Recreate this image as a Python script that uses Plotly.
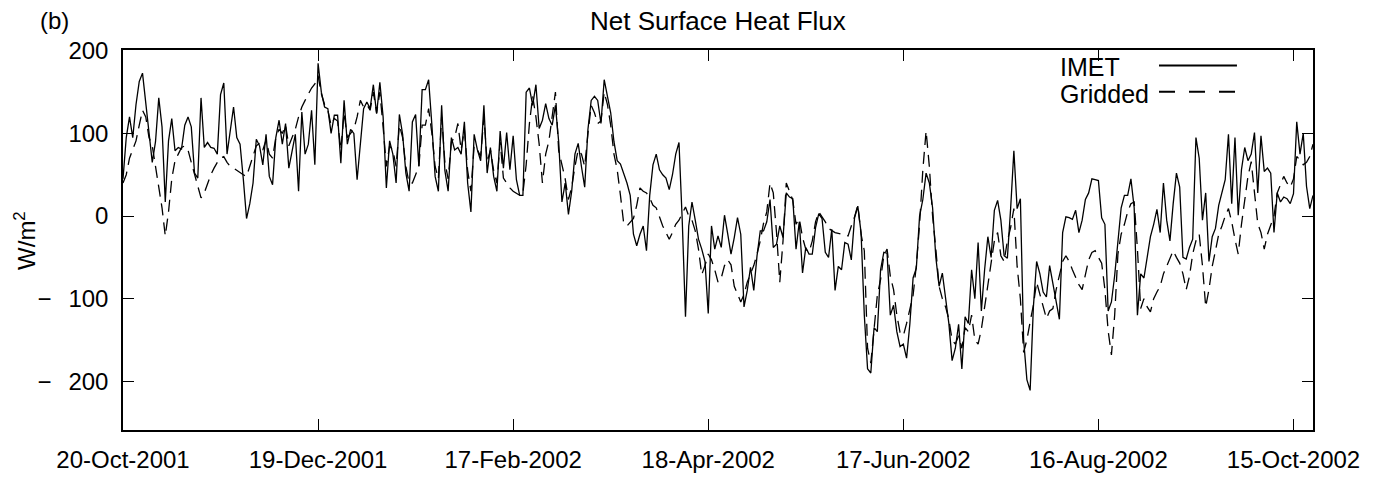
import pandas as pd
import plotly.graph_objects as go

start_date = "2001-10-20"

imet = [
    45, 95, 120, 95, 135, 163, 173, 135, 100, 65,
    90, 143, 108, 17, 91, 118, 79, 83, 81, 110,
    120, 108, 52, 46, 143, 83, 89, 83, 82, 75,
    147, 161, 75, 106, 132, 95, 87, 45, -3, 15,
    40, 93, 85, 62, 99, 48, 38, 95, 116, 87,
    112, 58, 79, 99, 30, 126, 75, 87, 128, 62,
    185, 150, 132, 130, 100, 122, 122, 64, 140, 87,
    105, 100, 44, 87, 130, 138, 130, 159, 124, 162,
    120, 34, 91, 75, 40, 123, 99, 52, 30, 114,
    123, 60, 153, 153, 165, 110, 48, 30, 134, 55,
    30, 95, 80, 83, 75, 114, 40, 5, 99, 80,
    67, 134, 52, 83, 48, 30, 103, 58, 101, 56,
    97, 44, 25, 25, 150, 155, 134, 159, 106, 116,
    136, 118, 110, 134, 90, 17, 40, 2, 30, 75,
    88, 60, 35, 105, 140, 145, 140, 112, 165, 145,
    125, 90, 67, 63, 52, 40, 25, -22, -36, -22,
    -12, -42, 25, 62, 75, 56, 50, 46, 32, 50,
    75, 89, -5, -122, -12, 17, -5, -28, -40, -55,
    -118, -12, -40, -24, -38, 1, -22, -46, -26, -2,
    -22, -110, -90, -62, -90, -48, -18, -18, -7, 20,
    -38, -34, -12, -26, 28, 23, 21, -40, -7, -69,
    -38, -46, -46, -14, 3, -3, -44, -50, -16, -90,
    -61, -65, -32, -34, -53, -2, 12, -20, -120, -185,
    -190, -135, -140, -65, -44, -45, -120, -108, -140, -158,
    -155, -172, -131, -75, -63, 0, 20, 52, 40, 10,
    -50, -85, -69, -100, -130, -175, -160, -131, -185, -122,
    -130, -65, -100, -32, -115, -65, -25, -50, 7, 19,
    -5, -48, -51, 9, 79, 9, 21, -150, -198, -211,
    -110, -55, -70, -92, -98, -60, -82, -100, -125, -20,
    -1, -2, -4, 7, -20, -5, 20, 28, 45, 44,
    43, -2, -10, -115, -104, -72, -30, 10, 25, 25,
    45, 10, -120, -70, -75, -50, -25, -10, 8, -20,
    40, -5, -30, 15, 52, 35, -50, -52, -38, -28,
    95, 70, -5, 28, -55, -25, -15, 13, 28, 44,
    99, 15, 95, 1, 56, 83, 67, 75, 101, 28,
    97, 54, 58, 52, -20, 28, 17, 23, 21, 15,
    27, 114, 75, 100, 36, 9, 25,
]

gridded = [
    40, 50, 70, 80, 91, 110, 128, 120, 95, 85,
    60, 30, 10, -24, 5, 45, 67, 75, 83, 85,
    80, 65, 50, 35, 22, 28, 40, 50, 58, 65,
    70, 72, 65, 60, 58, 55, 52, 50, 48, 60,
    72, 85, 88, 80, 92, 75, 70, 95, 105, 100,
    110, 85, 95, 105, 120, 132, 140, 148, 155, 160,
    170, 148, 135, 128, 110, 118, 115, 80, 125, 95,
    100, 105, 120, 140, 132, 135, 128, 150, 125, 150,
    108, 60, 85, 80, 60, 110, 95, 60, 40, 40,
    50, 60, 110, 110, 130, 100, 60, 45, 120, 65,
    45, 90, 95, 112, 80, 105, 55, 30, 85, 80,
    72, 120, 65, 80, 55, 40, 90, 46, 40, 34,
    30, 28, 25, 28, 62, 112, 145, 120, 87, 40,
    75, 91, 120, 150, 79, 60, 45, 20, 35, 60,
    80, 75, 60, 100, 134, 125, 112, 115, 150, 135,
    110, 75, 56, 25, -9, -12, -8, -3, 13, 34,
    30, 28, 22, 13, 10, -1, -12, -20, -28, -20,
    -10, -5, 3, 11, 0, -5, -18, -40, -71, -60,
    -46, -53, -65, -80, -75, -60, -53, -59, -85, -95,
    -104, -95, -80, -70, -60, -46, -30, -9, 5, 40,
    28, -20, -80, -30, 40, 30, 19, -10, -3, -26,
    -40, -44, -30, -7, 5, -1, -7, -15, -18, -20,
    -21, -22, -23, -24, -12, -1, 13, -22, -42, -160,
    -178, -140, -96, -77, -48, -40, -73, -89, -120, -141,
    -145, -130, -112, -96, -60, -10, 56, 103, 60, 0,
    -40, -85, -100, -110, -125, -150, -155, -145, -160, -135,
    -140, -120, -150, -155, -137, -110, -81, -55, -30, -20,
    -48, -55, -30, -14, 9, -61, -100, -165, -150, -128,
    -108, -80, -95, -108, -124, -115, -112, -89, -70, -55,
    -48, -55, -65, -75, -83, -89, -70, -53, -44, -42,
    -50, -57, -89, -139, -168, -120, -46, -22, -10, 5,
    15, 17, -40, -112, -100, -110, -116, -100, -92, -85,
    -70, -61, -50, -42, -50, -57, -70, -89, -73, -46,
    -30, -22, -60, -110, -89, -61, -42, -22, -12, 0,
    9, -7, -28, -46, -10, 20, 48, 66, 30, -9,
    -20, -40, -22, -10, 0, 28, 38, 48, 40, 35,
    45, 72, 68, 62, 65, 72, 87,
]

tick_dates = ["2001-10-20", "2001-12-19", "2002-02-17", "2002-04-18",
              "2002-06-17", "2002-08-16", "2002-10-15"]
tick_labels = ["20-Oct-2001", "19-Dec-2001", "17-Feb-2002", "18-Apr-2002",
               "17-Jun-2002", "16-Aug-2002", "15-Oct-2002"]
y_ticks = [-200, -100, 0, 100, 200]
y_tick_labels = ["\u2212\u2002\u2009200", "\u2212\u2002\u2009100", "0", "100", "200"]

series_names = ["IMET", "Gridded"]

dates_imet = pd.date_range(start_date, periods=len(imet), freq="D")
dates_grid = pd.date_range(start_date, periods=len(gridded), freq="D")

FONT = "Liberation Sans, Arial, Helvetica, sans-serif"

fig = go.Figure()
fig.add_trace(go.Scatter(x=dates_grid, y=gridded, mode="lines", name=series_names[1],
                         line=dict(color="black", width=1.3, dash="12px,7px"),
                         showlegend=False))
fig.add_trace(go.Scatter(x=dates_imet, y=imet, mode="lines", name=series_names[0],
                         line=dict(color="black", width=1.3),
                         showlegend=False))

axis_common = dict(showline=True, linecolor="black", linewidth=1.5, mirror="ticks",
                   ticks="inside", ticklen=11, tickwidth=1.3, tickcolor="black",
                   showgrid=False, zeroline=False,
                   tickfont=dict(family=FONT, size=24, color="black"))

fig.update_xaxes(range=["2001-10-20", "2002-10-21"], tickvals=tick_dates,
                 ticktext=tick_labels, ticklabelstandoff=7, **axis_common)
fig.update_yaxes(range=[-259, 201], tickvals=y_ticks, ticktext=y_tick_labels,
                 ticklabelstandoff=8, **axis_common)

# legend drawn as text + line samples (text left, sample right, no box)
leg_text_x = 0.7857
leg_line_x0, leg_line_x1 = 0.8706, 0.9361
leg_rows = [(0.954, 0.959, "solid"), (0.885, 0.890, "dash")]
annotations = []
shapes = []
for name, (ty, ly, dash) in zip(series_names, leg_rows):
    annotations.append(dict(text=name, x=leg_text_x, y=ty, xref="paper", yref="paper",
                            xanchor="left", yanchor="middle", showarrow=False,
                            font=dict(family=FONT, size=25, color="black")))
    shapes.append(dict(type="line", xref="paper", yref="paper",
                       x0=leg_line_x0, x1=leg_line_x1, y0=ly, y1=ly,
                       line=dict(color="black", width=2,
                                 dash="solid" if dash == "solid" else "16px,14px")))

annotations.append(dict(text="Net Surface Heat Flux", x=0.5, y=1.0767, xref="paper",
                        yref="paper", xanchor="center", yanchor="middle", showarrow=False,
                        font=dict(family=FONT, size=26, color="black")))
annotations.append(dict(text="(b)", x=-0.0714, y=1.0767, xref="paper", yref="paper",
                        xanchor="left", yanchor="middle", showarrow=False,
                        font=dict(family=FONT, size=24, color="black")))
annotations.append(dict(text="W/m<sup>2</sup>", x=-0.0824, y=0.5, xref="paper", yref="paper",
                        xanchor="center", yanchor="middle", showarrow=False, textangle=-90,
                        font=dict(family=FONT, size=24, color="black")))

fig.update_layout(
    width=1389, height=485,
    margin=dict(l=123, r=76, t=50, b=44),
    paper_bgcolor="white", plot_bgcolor="white",
    annotations=annotations, shapes=shapes,
)

fig.write_html("out.html", config={"displayModeBar": False},
               post_script="document.body.style.margin='0';")
